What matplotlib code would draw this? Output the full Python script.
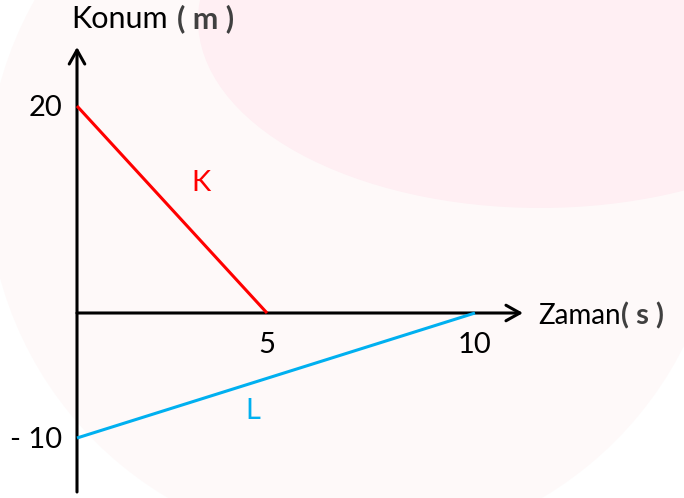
import numpy as np
import matplotlib
matplotlib.use("Agg")
import matplotlib.pyplot as plt
from matplotlib.patches import Ellipse

# data
time_k = [0, 5]
pos_k = [20, 0]
time_l = [0, 10]
pos_l = [-10, 0]
x_ticks = [5, 10]
x_tick_labels = ["5", "10"]
y_ticks = [20, -10]
y_tick_labels = ["20", "- 10"]

W, H = 684, 498
FONT = "Lato"


def piecewise(d, p):
    # hand-drawn axes are not evenly spaced, so map data -> pixel piece by piece
    d = np.asarray(d, float)
    p = np.asarray(p, float)

    def _map(v, a, b):
        v = np.asarray(v, float)
        out = np.interp(v, a, b)
        lo = b[0] + (v - a[0]) * (b[1] - b[0]) / (a[1] - a[0])
        hi = b[-1] + (v - a[-1]) * (b[-1] - b[-2]) / (a[-1] - a[-2])
        return np.where(v < a[0], lo, np.where(v > a[-1], hi, out))

    return (lambda v: _map(v, d, p)), (lambda v: _map(v, p, d))


fx, ix = piecewise([0, 5, 10], [77, 267, 475])
fy, iy = piecewise([-10, 0, 20], [H - 438, H - 313, H - 106])

fig = plt.figure(figsize=(W / 100, H / 100), dpi=100)
fig.patch.set_facecolor("white")
ax = fig.add_axes([0, 0, 1, 1])
ax.set_xscale("function", functions=(fx, ix))
ax.set_yscale("function", functions=(fy, iy))
ax.set_xlim(float(ix(0)), float(ix(W)))
ax.set_ylim(float(iy(0)), float(iy(H)))
ax.axis("off")

# faint watermark shapes behind the chart (figure pixel units, y from top)
ax.add_patch(Ellipse((355 / W, 1 - 181 / H), 2 * 368 / W, 2 * 368 / H,
                     transform=ax.transAxes, color="#fef9f9", lw=0, zorder=0))
ax.add_patch(Ellipse((540 / W, 1 - 20 / H), 684 / W, 376 / H,
                     transform=ax.transAxes, color="#ffeff3", lw=0, zorder=0))

# axes with open arrow heads
arrow = dict(arrowstyle="->,head_length=0.5,head_width=0.28", lw=2.2,
             color="black", mutation_scale=20, shrinkA=0, shrinkB=0)
ax.annotate("", xy=(77, H - 47), xytext=(77, H - 492),
            xycoords="figure pixels", arrowprops=arrow, zorder=3)
ax.annotate("", xy=(523, H - 313), xytext=(77, H - 313),
            xycoords="figure pixels", arrowprops=arrow, zorder=3)

ax.plot(time_k, pos_k, color="#ff0000", lw=2.2, solid_capstyle="butt", zorder=4)
ax.plot(time_l, pos_l, color="#00b0f0", lw=2.2, solid_capstyle="butt", zorder=4)

fs = 21
for t, lab in zip(x_ticks, x_tick_labels):
    ax.annotate(lab, xy=(t, 0), xytext=(0, -40), textcoords="offset pixels",
                ha="center", va="baseline", fontsize=fs, family=FONT)
for t, lab in zip(y_ticks, y_tick_labels):
    ax.annotate(lab, xy=(0, t), xytext=(-15, -10), textcoords="offset pixels",
                ha="right", va="baseline", fontsize=fs, family=FONT)

ax.text(3.26, 12.6, "K", color="#ff0000", fontsize=fs, family=FONT,
        ha="center", va="center")
ax.text(4.63, -7.8, "L", color="#00b0f0", fontsize=fs, family=FONT,
        ha="center", va="center")

fig.text(168 / W, 1 - 28 / H, "Konum", fontsize=22, family=FONT,
         va="baseline", ha="right")
fig.text(177 / W, 1 - 28 / H, "( m )", fontsize=22, family=FONT, va="baseline",
         color="#404040", fontweight="bold")
fig.text(538 / W, 1 - 324 / H, "Zaman", fontsize=20, family=FONT,
         va="baseline", ha="left")
fig.text(621 / W, 1 - 324 / H, "( s )", fontsize=21, family=FONT, va="baseline",
         color="#404040", fontweight="bold")

fig.savefig("out.png", dpi=100)
